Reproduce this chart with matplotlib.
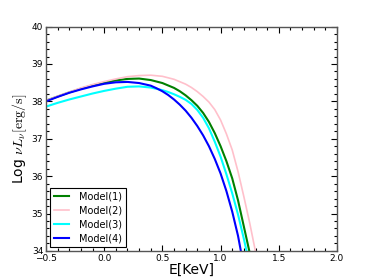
import numpy as np
import matplotlib
matplotlib.use('Agg')
import matplotlib.pyplot as plt
from matplotlib.ticker import MultipleLocator

# --- Data (log E vs log nuL_nu)
m1_x = [-0.5, -0.4, -0.3, -0.2, -0.1, 0.0, 0.1, 0.2, 0.3, 0.4, 0.5, 0.6, 0.65, 0.7,
        0.75, 0.8, 0.85, 0.9, 0.95, 1.0, 1.05, 1.1, 1.15, 1.2, 1.25, 1.28]
m1_y = [38.02, 38.13, 38.24, 38.34, 38.43, 38.50, 38.56, 38.60, 38.61, 38.57, 38.49, 38.36, 38.27, 38.16,
        38.03, 37.88, 37.69, 37.45, 37.15, 36.80, 36.40, 35.94, 35.35, 34.65, 33.95, 33.5]

m2_x = [-0.5, -0.4, -0.3, -0.2, -0.1, 0.0, 0.1, 0.2, 0.3, 0.4, 0.5, 0.6, 0.7, 0.75,
        0.8, 0.85, 0.9, 0.95, 1.0, 1.05, 1.1, 1.15, 1.2, 1.25, 1.3, 1.33]
m2_y = [38.02, 38.14, 38.25, 38.36, 38.45, 38.53, 38.60, 38.66, 38.69, 38.70, 38.67, 38.59, 38.46, 38.37,
        38.26, 38.13, 37.98, 37.78, 37.50, 37.13, 36.70, 36.12, 35.45, 34.75, 33.98, 33.5]

m3_x = [-0.5, -0.4, -0.3, -0.2, -0.1, 0.0, 0.1, 0.2, 0.3, 0.4, 0.5, 0.55, 0.6, 0.65,
        0.7, 0.75, 0.8, 0.85, 0.9, 0.95, 1.0, 1.05, 1.1, 1.15, 1.2, 1.23]
m3_y = [37.86, 37.96, 38.05, 38.13, 38.21, 38.28, 38.34, 38.39, 38.40, 38.37, 38.30, 38.25, 38.19, 38.12,
        38.04, 37.93, 37.77, 37.56, 37.28, 36.92, 36.52, 36.05, 35.54, 34.97, 34.32, 33.9]

m4_x = [-0.5, -0.4, -0.3, -0.2, -0.1, 0.0, 0.1, 0.2, 0.3, 0.4, 0.45, 0.5, 0.55, 0.6,
        0.65, 0.7, 0.75, 0.8, 0.85, 0.9, 0.95, 1.0, 1.05, 1.1, 1.15, 1.18]
m4_y = [38.00, 38.12, 38.23, 38.32, 38.40, 38.47, 38.51, 38.52, 38.49, 38.42, 38.35, 38.27, 38.17, 38.05,
        37.91, 37.75, 37.56, 37.34, 37.09, 36.80, 36.46, 36.07, 35.60, 35.05, 34.40, 33.9]

labels = ['Model(1)', 'Model(2)', 'Model(3)', 'Model(4)']
# ---

plt.rcParams['mathtext.fontset'] = 'cm'

fig = plt.figure(figsize=(3.74, 2.80), dpi=100)
ax = fig.add_axes([0.123, 0.104, 0.778, 0.801])

ax.plot(m1_x, m1_y, color='green', lw=1.5, label=labels[0])
ax.plot(m2_x, m2_y, color='pink', lw=1.2, label=labels[1])
ax.plot(m3_x, m3_y, color='cyan', lw=1.5, label=labels[2])
ax.plot(m4_x, m4_y, color='blue', lw=1.5, label=labels[3])

ax.set_xlim(-0.5, 2.0)
ax.set_ylim(34, 40)
ax.xaxis.set_major_locator(MultipleLocator(0.5))
ax.xaxis.set_minor_locator(MultipleLocator(0.1))
ax.yaxis.set_major_locator(MultipleLocator(1))
ax.yaxis.set_minor_locator(MultipleLocator(0.2))
ax.tick_params(which='both', direction='in', top=True, right=True, labelsize=6.5, pad=2)
ax.tick_params(which='major', length=4, width=0.8)
ax.tick_params(which='minor', length=2, width=0.8)
for s in ax.spines.values():
    s.set_color('#555555')
    s.set_linewidth(1.0)

ax.set_xlabel('E[KeV]', fontsize=10, labelpad=0)
ax.set_ylabel(r'Log $\nu L_{\nu}[\rm{erg/s}]$', fontsize=10, labelpad=2)

leg = ax.legend(loc='lower left', fontsize=7, fancybox=False, framealpha=1,
                edgecolor='black', borderaxespad=0.4, handlelength=1.6,
                labelspacing=0.4, handletextpad=1.0)
leg.get_frame().set_linewidth(0.8)

fig.savefig('out.png', dpi=100)
